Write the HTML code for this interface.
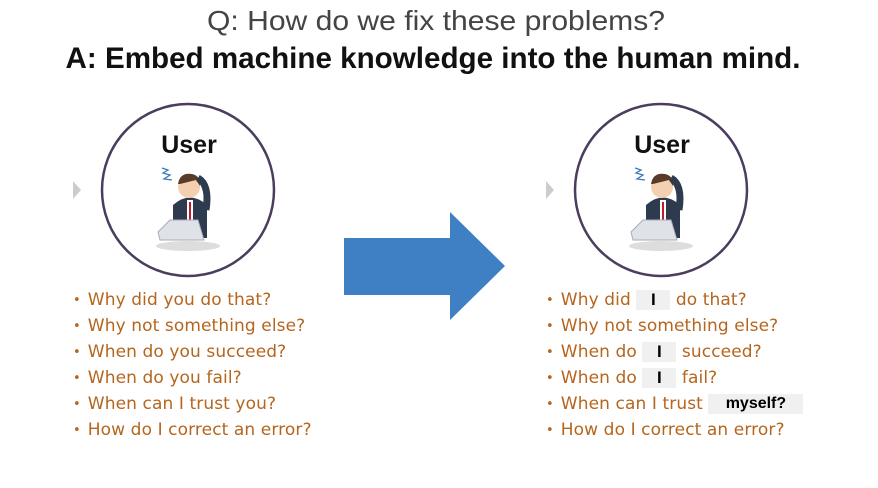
<!DOCTYPE html>
<html><head><style>
body{margin:0;width:878px;height:488px;background:#fff;overflow:hidden;font-family:"DejaVu Sans","Liberation Sans",sans-serif}
.q{position:absolute;font-size:17px;color:#b5651d;white-space:nowrap;letter-spacing:0.1px}
.q div{height:26px;line-height:26px}
.q div:before{content:"•";margin-right:7px;font-size:13px;position:relative;top:-1px}
.g{display:inline-block;background:#f0f0f0;color:#000;font-family:"Liberation Sans",sans-serif;font-weight:bold;text-align:center;height:20px;line-height:20px;vertical-align:top;margin-top:3px;letter-spacing:0}
</style></head><body>
<svg width="878" height="488" style="position:absolute;left:0;top:0">
<text x="436" y="30" text-anchor="middle" font-family="Liberation Sans" font-size="28" fill="#444" font-weight="300" textLength="458" lengthAdjust="spacingAndGlyphs">Q: How do we fix these problems?</text>
<text x="433" y="68" text-anchor="middle" font-family="Liberation Sans" font-size="30" font-weight="bold" fill="#111" textLength="735" lengthAdjust="spacingAndGlyphs">A: Embed machine knowledge into the human mind.</text>
<path d="M344 238 H450 V212 L505 266 L450 320 V295 H344 Z" fill="#3f7fc4"/>
<g id="u">
<polygon points="73,181 81,190 73,199" fill="#ccc"/>
<circle cx="188" cy="190" r="86" fill="#fff" stroke="#4a3d5e" stroke-width="2.5"/>
<text x="189" y="153" text-anchor="middle" font-family="Liberation Sans" font-weight="bold" font-size="25" fill="#111">User</text>
<path d="M162 168 l6 2 -5 3 7 2 -6 4 8 1" stroke="#3a7ab8" fill="none" stroke-width="1.3"/>
<path d="M173 205 Q190 190 207 205 V238 H173 Z" fill="#2e3a4e"/>
<path d="M187 200 h6 v30 h-6z" fill="#fff"/>
<path d="M189 202 h2 v26 h-2z" fill="#c01c28"/>
<circle cx="189" cy="187" r="11" fill="#f5d0b0"/>
<path d="M178 184 Q180 172 192 174 Q201 176 200 186 L196 180 Q188 182 180 184Z" fill="#5a3b28"/>
<path d="M198 178 Q210 185 206 210" stroke="#2e3a4e" stroke-width="7" fill="none"/>
<path d="M158 232 L170 220 H198 L204 240 H160 Z" fill="#dfe3e8" stroke="#aab" stroke-width="1"/>
<ellipse cx="188" cy="246" rx="32" ry="5" fill="#ddd"/>
</g>
<use href="#u" x="473"/>
</svg>
<div class="q" style="left:73px;top:287px">
<div>Why did you do that?</div><div>Why not something else?</div><div>When do you succeed?</div><div>When do you fail?</div><div>When can I trust you?</div><div>How do I correct an error?</div>
</div>
<div class="q" style="left:546px;top:287px">
<div>Why did <span class="g" style="width:34px">I</span> do that?</div><div>Why not something else?</div><div>When do <span class="g" style="width:34px">I</span> succeed?</div><div>When do <span class="g" style="width:34px">I</span> fail?</div><div>When can I trust <span class="g" style="width:95px;font-size:16px">myself?</span></div><div>How do I correct an error?</div>
</div>
</body></html>
